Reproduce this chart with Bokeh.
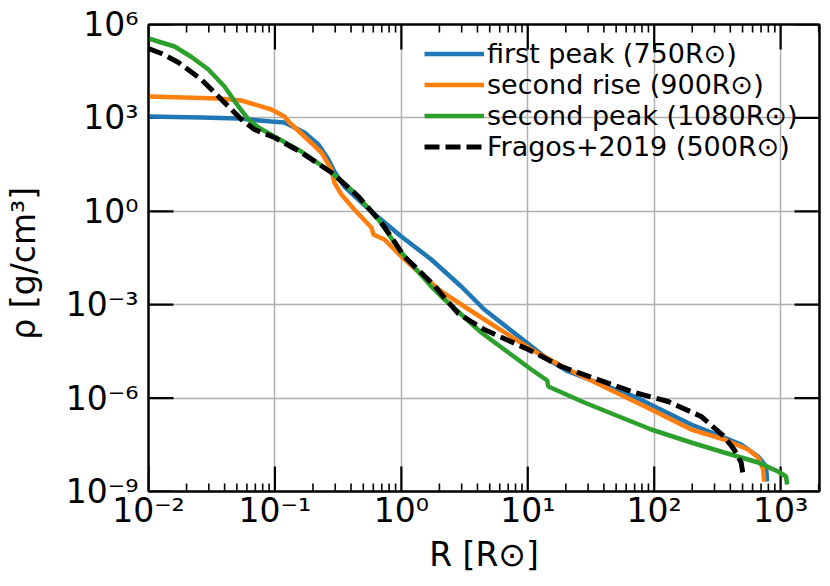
import numpy as np
from bokeh.plotting import figure
from bokeh.models import (Range1d, LogAxis, FixedTicker, CustomJSTickFormatter,
                          Legend, LegendItem)
from bokeh.embed import file_html
from bokeh.resources import INLINE

# ---- data (stored as log10 values) ----
logR_first = [-2.000, -1.581, -1.289, -1.028, -0.925, -0.767, -0.656, -0.577, -0.530,
              -0.451, -0.237, 0.000, 0.237, 0.474, 0.656, 0.909, 1.162, 1.320, 1.581,
              1.842, 2.292, 2.553, 2.688, 2.822, 2.885, 2.893]
logrho_first = [3.045, 3.013, 2.981, 2.884, 2.852, 2.531, 2.146, 1.664, 1.278,
                0.797, -0.006, -0.809, -1.548, -2.415, -3.154, -3.957, -4.760, -5.146, -5.547,
                -5.949, -6.848, -7.266, -7.490, -7.876, -8.197, -8.679]

logR_rise = [-2.000, -1.447, -1.265, -1.028, -0.925, -0.885, -0.767, -0.632, -0.553,
             -0.530, -0.474, -0.372, -0.237, -0.221, -0.134, 0.000, 0.158, 0.316, 0.632,
             1.028, 1.320, 1.976, 2.292, 2.553, 2.743, 2.822, 2.862, 2.870]
logrho_rise = [3.687, 3.623, 3.559, 3.270, 3.045, 2.852, 2.403, 1.889, 1.343,
               0.925, 0.540, 0.058, -0.520, -0.745, -0.906, -1.452, -2.030, -2.576, -3.411,
               -4.439, -5.081, -6.366, -7.009, -7.330, -7.651, -7.908, -8.293, -8.679]

logR_peak2 = [-2.000, -1.897, -1.794, -1.660, -1.526, -1.399, -1.289, -1.209, -1.130, -1.004,
              -0.791, -0.553, -0.372, -0.182, 0.000, 0.237, 0.316, 0.632, 1.028, 1.154, 1.162,
              1.447, 1.976, 2.292, 2.553, 2.822, 2.980, 3.043, 3.051]
logrho_peak2 = [5.550, 5.422, 5.293, 4.956, 4.555, 4.009, 3.366, 2.949, 2.692, 2.403,
                1.921, 1.246, 0.604, -0.263, -1.323, -2.415, -2.737, -3.893, -5.081, -5.435,
                -5.627, -6.141, -7.009, -7.426, -7.747, -8.069, -8.358, -8.518, -8.775]

logR_fragos = [-2.000, -1.897, -1.763, -1.581, -1.423, -1.265, -1.162, -1.004, -0.791, -0.553,
               -0.340, -0.158, 0.024, 0.261, 0.340, 0.451, 0.553, 0.656, 1.004, 1.265,
               1.842, 2.111, 2.372, 2.427, 2.553, 2.632, 2.688, 2.704]
logrho_fragos = [5.229, 5.069, 4.779, 4.233, 3.591, 2.949, 2.627, 2.370, 1.889, 1.246,
                 0.475, -0.360, -1.452, -2.383, -2.769, -3.283, -3.540, -3.797, -4.439, -4.985,
                 -5.820, -6.109, -6.591, -6.784, -7.233, -7.651, -8.069, -8.486]

series_labels = ["first peak (750R\u2299)", "second rise (900R\u2299)",
                 "second peak (1080R\u2299)", "Fragos+2019 (500R\u2299)"]

x_ticks = [1e-2, 1e-1, 1e0, 1e1, 1e2, 1e3]
x_tick_labels = ["10\u207b\u00b2", "10\u207b\u00b9", "10\u2070", "10\u00b9", "10\u00b2", "10\u00b3"]
y_ticks = [1e-9, 1e-6, 1e-3, 1e0, 1e3, 1e6]
y_tick_labels = ["10\u207b\u2079", "10\u207b\u2076", "10\u207b\u00b3", "10\u2070", "10\u00b3", "10\u2076"]
x_minor = [m * 10.0 ** k for k in range(-2, 4) for m in range(2, 10) if m * 10.0 ** k < 2.03e3]

X_MIN, X_MAX = 1e-2, 2.03e3
Y_MIN, Y_MAX = 1e-9, 1e6
FRAME_W, FRAME_H = 671, 467
FONT = "DejaVu Sans"

p = figure(x_axis_type="log", y_axis_type="log",
           x_range=Range1d(X_MIN, X_MAX), y_range=Range1d(Y_MIN, Y_MAX),
           frame_width=FRAME_W, frame_height=FRAME_H,
           min_border_left=139, min_border_right=4, min_border_top=24, min_border_bottom=80,
           output_backend="svg", toolbar_location=None)
p.background_fill_color = "white"
p.border_fill_color = "white"
p.outline_line_color = "black"
p.outline_line_width = 2

fmt_code = """
let best = 0; let bd = 1e99;
for (let i = 0; i < tvals.length; i++) {
  const d = Math.abs(Math.log10(tvals[i]) - Math.log10(tick));
  if (d < bd) { bd = d; best = i; }
}
return tlabels[best];
"""
xfmt = CustomJSTickFormatter(args=dict(tvals=x_ticks, tlabels=x_tick_labels), code=fmt_code)
yfmt = CustomJSTickFormatter(args=dict(tvals=y_ticks, tlabels=y_tick_labels), code=fmt_code)

def style_axis(ax):
    ax.axis_line_width = 2
    ax.axis_line_color = "black"
    ax.major_tick_in = 0
    ax.major_tick_out = 0
    ax.minor_tick_in = 0
    ax.minor_tick_out = 0
    ax.major_label_text_font = FONT
    ax.major_label_text_font_size = "33px"
    ax.major_label_text_color = "black"
    ax.axis_label_text_font = FONT
    ax.axis_label_text_font_size = "33px"
    ax.axis_label_text_font_style = "normal"
    ax.axis_label_text_color = "black"

xa = p.xaxis[0]
xa.ticker = FixedTicker(ticks=x_ticks, minor_ticks=x_minor)
xa.formatter = xfmt
style_axis(xa)
xa.axis_label = "R [R\u2299]"
xa.major_label_standoff = -1
xa.axis_label_standoff = 2

ya = p.yaxis[0]
ya.ticker = FixedTicker(ticks=y_ticks, minor_ticks=[])
ya.formatter = yfmt
style_axis(ya)
ya.axis_label = "\u03c1  [g/cm\u00b3]"
ya.major_label_standoff = 10
ya.axis_label_standoff = 20

blank = "return '';"
top = LogAxis(ticker=FixedTicker(ticks=x_ticks, minor_ticks=x_minor),
              formatter=CustomJSTickFormatter(code=blank))
style_axis(top)
top.major_label_standoff = 0
p.add_layout(top, "above")
right = LogAxis(ticker=FixedTicker(ticks=y_ticks, minor_ticks=[]),
                formatter=CustomJSTickFormatter(code=blank))
style_axis(right)
right.major_label_standoff = 0
p.add_layout(right, "right")

p.xgrid.grid_line_color = "#b0b0b0"
p.xgrid.grid_line_width = 1.5
p.ygrid.grid_line_color = "#b0b0b0"
p.ygrid.grid_line_width = 1.5

# inward-facing tick marks on all four sides (matplotlib style).
nxM, nxm, nyM = len(x_ticks), len(x_minor), len(y_ticks)
tick_kw = dict(line_color="black", length_units="screen")
p.ray(x=[X_MIN] * nyM, y=y_ticks, length=25, angle=0.0, line_width=2.2, **tick_kw)
p.ray(x=[X_MAX] * nyM, y=y_ticks, length=25, angle=np.pi, line_width=2.2, **tick_kw)
# x ticks as short vertical segments; tick length converted from px to decades
dec_per_px = np.log10(Y_MAX / Y_MIN) / FRAME_H
major_f = 10.0 ** (25 * dec_per_px)
minor_f = 10.0 ** (8 * dec_per_px)
p.segment(x0=x_ticks, y0=[Y_MIN] * nxM, x1=x_ticks, y1=[Y_MIN * major_f] * nxM,
          line_color="black", line_width=2.2)
p.segment(x0=x_ticks, y0=[Y_MAX] * nxM, x1=x_ticks, y1=[Y_MAX / major_f] * nxM,
          line_color="black", line_width=2.2)
p.segment(x0=x_minor, y0=[Y_MIN] * nxm, x1=x_minor, y1=[Y_MIN * minor_f] * nxm,
          line_color="black", line_width=1.6)
p.segment(x0=x_minor, y0=[Y_MAX] * nxm, x1=x_minor, y1=[Y_MAX / minor_f] * nxm,
          line_color="black", line_width=1.6)

def tolin(a):
    return 10.0 ** np.array(a)

r1 = p.line(tolin(logR_first), tolin(logrho_first), line_color="#1f77b4", line_width=4.5)
r2 = p.line(tolin(logR_rise), tolin(logrho_rise), line_color="#ff7f0e", line_width=4.5)
r3 = p.line(tolin(logR_peak2), tolin(logrho_peak2), line_color="#2ca02c", line_width=4.5)
r4 = p.line(tolin(logR_fragos), tolin(logrho_fragos), line_color="black", line_width=5,
            line_dash="15 6")

items = [LegendItem(label=lab, renderers=[r]) for lab, r in zip(series_labels, [r1, r2, r3, r4])]
legend = Legend(items=items, location=(276, 329))
legend.label_text_font = FONT
legend.label_text_font_size = "27px"
legend.label_text_color = "black"
legend.glyph_width = 60
legend.glyph_height = 31
legend.label_height = 31
legend.label_standoff = 3
legend.spacing = 0
legend.padding = 0
legend.margin = 0
legend.border_line_alpha = 0
legend.background_fill_alpha = 0
p.add_layout(legend)

open("out.html", "w").write(file_html(p, INLINE))
